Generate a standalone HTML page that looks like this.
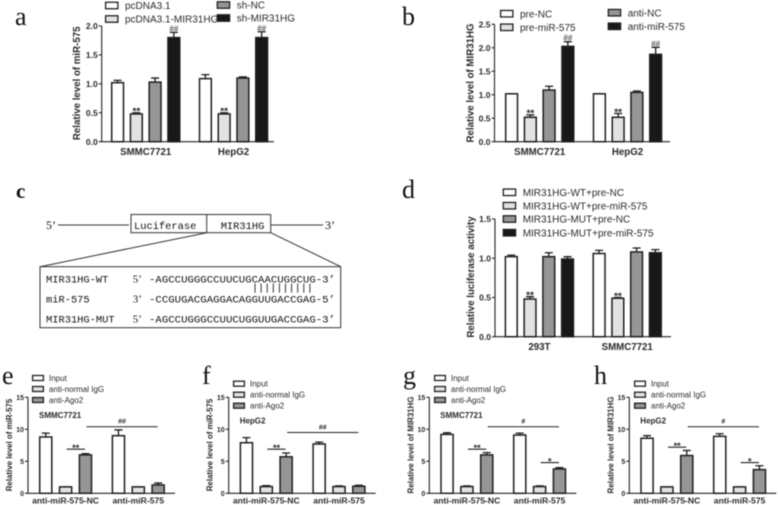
<!DOCTYPE html>
<html><head><meta charset="utf-8"><title>Figure panels</title>
<style>
html,body{margin:0;padding:0;background:#fff;width:778px;height:505px;overflow:hidden}
svg{display:block;filter:blur(.5px)}
text{font-family:"Liberation Sans",sans-serif;fill:#2a2a2a}
.mono{font-family:"Liberation Mono",monospace;fill:#111}
.serif{font-family:"Liberation Serif",serif;fill:#111}
</style></head><body>
<svg id="figure" xmlns="http://www.w3.org/2000/svg" width="778" height="505" viewBox="0 0 778 505">
<g id="panel-c" stroke="#333" fill="none" stroke-width="1">
  <line x1="58" y1="225" x2="129" y2="225"/>
  <rect x="131" y="214.5" width="139.7" height="18.2"/>
  <line x1="206.7" y1="214.5" x2="206.7" y2="232.7"/>
  <line x1="270.7" y1="225" x2="323" y2="225"/>
  <line x1="206.7" y1="232.7" x2="40" y2="266.7"/>
  <line x1="270.7" y1="232.7" x2="340.7" y2="266.7"/>
  <rect x="40" y="266.7" width="300.7" height="61"/>
  <g id="pair-ticks"></g>
  <g stroke="none">
  <text class="serif" x="46" y="229" font-size="12">5’</text>
  <text class="serif" x="325" y="229" font-size="12">3’</text>
  <text class="mono" x="134" y="229" font-size="10.4">Luciferase</text>
  <text class="mono" x="220.7" y="229" font-size="10.4">MIR31HG</text>
  <text class="mono" x="46" y="282.5" font-size="10.4">MIR31HG-WT</text>
  <text class="mono" x="46" y="302.7" font-size="10.4">miR-575</text>
  <text class="mono" x="46" y="322.7" font-size="10.4">MIR31HG-MUT</text>
  <text class="serif" x="132.7" y="282.5" font-size="11">5’</text>
  <text class="serif" x="132.7" y="302.7" font-size="11">3’</text>
  <text class="serif" x="132.7" y="322.7" font-size="11">5’</text>
  <text class="mono" x="149" y="282.5" font-size="10" textLength="186" lengthAdjust="spacingAndGlyphs">-AGCCUGGGCCUUCUGCAACUGGCUG-3’</text>
  <text class="mono" x="149" y="302.7" font-size="10" textLength="186" lengthAdjust="spacingAndGlyphs">-CCGUGACGAGGACAGGUUGACCGAG-5’</text>
  <text class="mono" x="149" y="322.7" font-size="10" textLength="186" lengthAdjust="spacingAndGlyphs">-AGCCUGGGCCUUCUGGUUGACCGAG-3’</text>
  </g>
</g>
</svg>
<script>
// ---- chart data ----
var fills = ['#ffffff', '#e2e2e2', '#969696', '#181818'];

var aCategories = ['SMMC7721', 'HepG2'];
var aSeries = ['pcDNA3.1', 'pcDNA3.1-MIR31HG', 'sh-NC', 'sh-MIR31HG'];
var aValues = [1.02, 0.48, 1.03, 1.80, 1.09, 0.48, 1.10, 1.80];
var aErrors = [0.04, 0.02, 0.07, 0.09, 0.07, 0.02, 0.02, 0.10];
var aMarks = ['', '**', '', '##', '', '**', '', '##'];
var aTicks = ['0.0', '0.5', '1.0', '1.5', '2.0'];

var bCategories = ['SMMC7721', 'HepG2'];
var bSeries = ['pre-NC', 'pre-miR-575', 'anti-NC', 'anti-miR-575'];
var bValues = [1.02, 0.52, 1.10, 2.03, 1.02, 0.52, 1.05, 1.86];
var bErrors = [0.00, 0.05, 0.08, 0.10, 0.00, 0.08, 0.03, 0.15];
var bMarks = ['', '**', '', '##', '', '**', '', '##'];
var bTicks = ['0.0', '0.5', '1.0', '1.5', '2.0', '2.5'];

var dCategories = ['293T', 'SMMC7721'];
var dSeries = ['MIR31HG-WT+pre-NC', 'MIR31HG-WT+pre-miR-575', 'MIR31HG-MUT+pre-NC', 'MIR31HG-MUT+pre-miR-575'];
var dValues = [1.02, 0.48, 1.02, 0.99, 1.06, 0.49, 1.08, 1.07];
var dErrors = [0.02, 0.03, 0.05, 0.03, 0.04, 0.01, 0.05, 0.04];
var dMarks = ['', '**', '', '', '', '**', '', ''];
var dTicks = ['0.0', '0.5', '1.0', '1.5'];

var ripCategories = ['anti-miR-575-NC', 'anti-miR-575'];
var ripSeries = ['Input', 'anti-normal IgG', 'anti-Ago2'];
var ripTicks = ['0', '5', '10', '15'];

var eValues = [8.8, 1.0, 6.0, 9.0, 1.0, 1.3];
var eErrors = [0.6, 0.0, 0.2, 0.9, 0.0, 0.3];
var fValues = [7.9, 1.05, 5.7, 7.7, 1.05, 1.1];
var fErrors = [0.8, 0.15, 0.6, 0.3, 0.1, 0.15];
var gValues = [9.2, 1.05, 6.0, 9.1, 1.05, 3.8];
var gErrors = [0.25, 0.1, 0.35, 0.3, 0.1, 0.2];
var hValues = [8.6, 1.0, 5.9, 8.9, 1.0, 3.7];
var hErrors = [0.4, 0.0, 0.8, 0.4, 0.0, 0.6];

// significance brackets: [first bar, last bar, height in axis units, label]
var eBrackets = [[1, 2, 6.9, '**'], [2, 5, 10.4, '##']];
var fBrackets = [[1, 2, 6.9, '**'], [2, 5, 9.5, '##']];
var gBrackets = [[1, 2, 6.9, '**'], [2, 5, 10.4, '#'], [4, 5, 4.8, '*']];
var hBrackets = [[1, 2, 7.2, '**'], [2, 5, 10.4, '#'], [4, 5, 4.8, '*']];

var pairTickCount = 10;

// ---- drawing ----
var NS = 'http://www.w3.org/2000/svg';
var root = document.getElementById('figure');

function add(parent, tag, attrs, txt) {
  var el = document.createElementNS(NS, tag);
  for (var k in attrs) el.setAttribute(k, attrs[k]);
  if (txt !== undefined) el.textContent = txt;
  parent.appendChild(el);
  return el;
}

function slug(s) {
  return String(s).toLowerCase().replace(/[^a-z0-9]+/g, '-');
}

function drawChart(c) {
  var g = add(root, 'g', {});
  
  

  var yMax = parseFloat(c.ticks[c.ticks.length - 1]);
  function yScale(v) { return c.y0 - (v / yMax) * (c.y0 - c.yTop); }
  var n = c.series.length;
  function barLeft(i) {
    var grp = Math.floor(i / n), idx = i % n;
    return c.first + grp * c.groupStep + idx * c.step;
  }
  function barMid(i) { return barLeft(i) + c.barW / 2; }

  // bars and error bars
  c.values.forEach(function (v, i) {
    var x = barLeft(i), mid = barMid(i), top = yScale(v), et = yScale(v + c.errors[i]);
    var fill = fills[i % n];
    var seriesName = slug(c.series[i % n]);
    var err = add(g, 'path', {
      d: 'M' + mid + ' ' + top + 'V' + et + 'M' + (mid - 4) + ' ' + et + 'H' + (mid + 4),
      stroke: '#1a1a1a', 'stroke-width': 1.3, fill: 'none'
    });
    
    
    var bar = add(g, 'rect', {
      x: x + 0.7, y: top, width: c.barW - 1.4, height: c.y0 - top,
      fill: fill, stroke: '#1f1f1f', 'stroke-width': 1.5
    });
    
    
    if (c.marks && c.marks[i]) {
      var star = c.marks[i].charAt(0) === '*';
      var mk = add(g, 'text', {
        x: mid, y: star ? et + 1.8 : et - 1, 'text-anchor': 'middle',
        'font-size': star ? 10 : 8, 'font-weight': star ? 'bold' : 'normal', fill: '#333'
      }, c.marks[i]);
      
      
    }
  });

  // axes
  var axis = add(g, 'path', {
    d: 'M' + c.x0 + ' ' + c.yTop + 'V' + c.y0 + 'H' + c.x1,
    stroke: '#222', 'stroke-width': 1.1, fill: 'none'
  });
  
  

  c.ticks.forEach(function (t) {
    var y = yScale(parseFloat(t));
    var tk = add(g, 'line', { x1: c.x0 - 3, x2: c.x0, y1: y, y2: y, stroke: '#222', 'stroke-width': 1.1 });
    
    
    var lb = add(g, 'text', {
      x: c.x0 - 4, y: y + c.tickSize * 0.36, 'text-anchor': 'end',
      'font-size': c.tickSize, 'font-weight': 'bold'
    }, t);
    
    
  });

  // category labels
  c.categories.forEach(function (cat, k) {
    var from = barLeft(k * n), to = barLeft(k * n + n - 1) + c.barW;
    var lb = add(g, 'text', {
      x: (from + to) / 2, y: c.catY, 'text-anchor': 'middle',
      'font-size': c.catSize, 'font-weight': 'bold'
    }, cat);
    
    
  });

  // y axis title
  var title = add(g, 'text', {
    transform: 'translate(' + c.titleX + ' ' + c.titleY + ') rotate(-90)',
    'text-anchor': 'middle', 'font-size': c.titleSize, 'font-weight': 'bold'
  }, c.title);
  
  

  // legend
  c.legend.forEach(function (pos, i) {
    var sw = add(g, 'rect', {
      x: pos[0] + 0.6, y: pos[1] - c.swH / 2, width: c.swW - 1.2, height: c.swH,
      fill: fills[i], stroke: '#1f1f1f', 'stroke-width': 1.3
    });
    
    
    var lt = add(g, 'text', {
      x: pos[0] + c.swW + c.swGap, y: pos[1] + c.legSize * 0.36,
      'font-size': c.legSize, fill: '#333'
    }, c.series[i]);
    
    
  });

  // cell-line caption
  if (c.caption) {
    var cp = add(g, 'text', {
      x: c.captionX, y: c.captionY, 'font-size': 8, 'font-weight': 'bold'
    }, c.caption);
    
    
  }

  // significance brackets
  (c.brackets || []).forEach(function (b) {
    var x1 = barMid(b[0]) + 1, x2 = barMid(b[1]) - 0.5, y = yScale(b[2]);
    var ln = add(g, 'line', { x1: x1, x2: x2, y1: y, y2: y, stroke: '#222', 'stroke-width': 1.1 });
    
    
    var star = b[3].charAt(0) === '*';
    var tx = add(g, 'text', {
      x: (x1 + x2) / 2, y: star ? y + 1.7 : y - 3, 'text-anchor': 'middle',
      'font-size': star ? 9 : 7, 'font-weight': 'bold', fill: '#333'
    }, b[3]);
    
    
  });
}

function big(id, title, cats, series, values, errors, marks, ticks, o) {
  drawChart({
    id: id, title: title, categories: cats, series: series, values: values, errors: errors, marks: marks, ticks: ticks,
    x0: o.x0, x1: o.x1, y0: o.y0, yTop: o.yTop, first: o.first, step: 18.75, groupStep: 87.8, barW: 13.2,
    tickSize: 8.5, catSize: 9.7, catY: o.catY, titleSize: 9.7, titleX: o.titleX, titleY: o.titleY,
    legend: o.legend, swW: 13.5, swH: 6.5, swGap: 6.5, legSize: 10
  });
}

function small(id, title, caption, values, errors, brackets, o) {
  drawChart({
    id: id, title: title, categories: ripCategories, series: ripSeries, values: values, errors: errors, ticks: ripTicks,
    x0: o.dx + 28, x1: o.dx + 175, y0: 493.3, yTop: 397.3, first: o.dx + 39, step: 19.85, groupStep: 72.7, barW: 13.5,
    tickSize: 7, catSize: 8.6, catY: 503.5, titleSize: 7.9, titleX: o.dx + 12, titleY: 445,
    legend: [[o.legX, o.legY], [o.legX, o.legY + 11], [o.legX, o.legY + 22]],
    swW: 12, swH: 5, swGap: 5, legSize: 8,
    caption: caption, captionX: o.dx + 39, captionY: o.capY, brackets: brackets
  });
}

big('a', 'Relative level of miR-575', aCategories, aSeries, aValues, aErrors, aMarks, aTicks, {
  x0: 101.7, x1: 274, y0: 141.7, yTop: 26, first: 111, catY: 155, titleX: 80, titleY: 83.3,
  legend: [[105, 5.5], [105, 19], [216.7, 5], [216.7, 18]]
});
big('b', 'Relative level of MIR31HG', bCategories, bSeries, bValues, bErrors, bMarks, bTicks, {
  x0: 494.5, x1: 670, y0: 141.7, yTop: 24.3, first: 505, catY: 155, titleX: 473.5, titleY: 83,
  legend: [[500, 13.7], [500, 27.3], [607.7, 12.7], [607.7, 26.3]]
});
big('d', 'Relative luciferase activity', dCategories, dSeries, dValues, dErrors, dMarks, dTicks, {
  x0: 495, x1: 671, y0: 336.7, yTop: 219, first: 504.7, catY: 350, titleX: 474, titleY: 277,
  legend: [[502.7, 192.3], [502.7, 205.7], [502.7, 219], [502.7, 232.7]]
});

small('e', 'Relative level of miR-575', 'SMMC7721', eValues, eErrors, eBrackets, { dx: 0, legX: 32, legY: 378, capY: 418 });
small('f', 'Relative level of miR-575', 'HepG2', fValues, fErrors, fBrackets, { dx: 200.7, legX: 233, legY: 383.7, capY: 423.5 });
small('g', 'Relative level of MIR31HG', 'SMMC7721', gValues, gErrors, gBrackets, { dx: 401.3, legX: 434, legY: 378, capY: 418 });
small('h', 'Relative level of MIR31HG', 'HepG2', hValues, hErrors, hBrackets, { dx: 601.3, legX: 634, legY: 383.7, capY: 423.5 });

// base pairing ticks in panel c
var pairs = document.getElementById('pair-ticks');
for (var p = 0; p < pairTickCount; p++) {
  var pt = add(pairs, 'line', { x1: 255 + p * 6.1, x2: 255 + p * 6.1, y1: 283.5, y2: 292.7, stroke: '#333', 'stroke-width': 1 });
  
  
}

// panel letters
var letters = [['a', 15, 25], ['b', 402, 25], ['d', 402, 198], ['e', 2, 384], ['f', 202, 384], ['g', 403, 384], ['h', 594, 384]];
letters.forEach(function (l) {
  var t = add(root, 'text', { x: l[1], y: l[2], 'font-size': 26, 'class': 'serif' }, l[0]);
  
  
});
var cLetter = add(root, 'text', { x: 16, y: 198, 'font-size': 21, 'font-weight': 'bold', 'class': 'serif' }, 'c');


</script>
</body></html>
